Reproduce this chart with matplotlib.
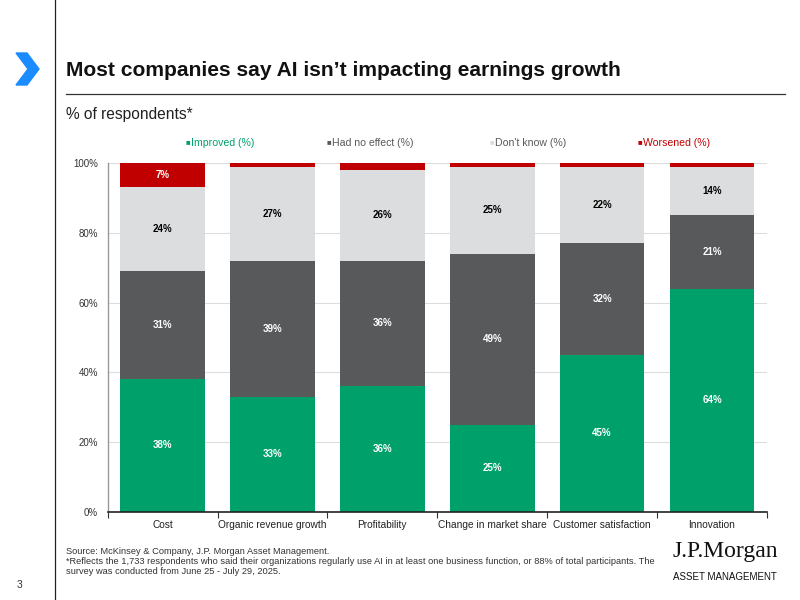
import numpy as np
import matplotlib.pyplot as plt
from matplotlib.patches import Polygon
from matplotlib.lines import Line2D

plt.rcParams['font.family'] = ['Liberation Sans', 'DejaVu Sans']

# data (% of respondents)
categories = ['Cost', 'Organic revenue growth', 'Profitability',
              'Change in market share', 'Customer satisfaction', 'Innovation']
improved = [38, 33, 36, 25, 45, 64]
no_effect = [31, 39, 36, 49, 32, 21]
dont_know = [24, 27, 26, 25, 22, 14]
worsened = [7, 1, 2, 1, 1, 1]
series_names = ['Improved (%)', 'Had no effect (%)', "Don't know (%)", 'Worsened (%)']
y_ticks = [0, 20, 40, 60, 80, 100]

colors = ['#00A06B', '#58595B', '#DCDDDE', '#C00000']
label_colors = ['white', 'white', 'black', 'white']
legend_text_colors = ['#00A06B', '#58595B', '#58595B', '#C00000']

fig = plt.figure(figsize=(8, 6), dpi=100)
ax = fig.add_axes([0.1346, 0.1472, 0.824, 0.581])

x = np.arange(len(categories))
bottom = np.zeros(len(categories))
for vals, col, lcol in zip([improved, no_effect, dont_know, worsened], colors, label_colors):
    vals = np.array(vals, dtype=float)
    ax.bar(x, vals, bottom=bottom, width=0.77, color=col, zorder=2)
    for xi, v, b in zip(x, vals, bottom):
        if v >= 5:
            ax.text(xi, b + v / 2, f'{int(v)}%', ha='center', va='center',
                    fontsize=7, fontweight='bold', color=lcol, zorder=3)
    bottom += vals

ax.set_xlim(-0.5, len(categories) - 0.5)
ax.set_ylim(0, 100)
ax.set_yticks(y_ticks)
ax.set_yticklabels([f'{t}%' for t in y_ticks], fontsize=7, color='#333333')
ax.set_xticks(x)
ax.set_xticklabels(categories, fontsize=7.3, color='#222222')
ax.set_xticks(np.arange(-0.5, len(categories)), minor=True)
ax.tick_params(axis='x', which='major', length=0, pad=6)
ax.tick_params(axis='x', which='minor', length=4, width=0.8, color='#333333', direction='out')
ax.tick_params(axis='y', length=0, pad=7)
ax.yaxis.grid(True, color='#DDDDDD', linewidth=0.8, zorder=0)
ax.set_axisbelow(True)
for s in ['top', 'right']:
    ax.spines[s].set_visible(False)
ax.spines['left'].set_color('#999999')
ax.spines['left'].set_linewidth(1.0)
ax.spines['bottom'].set_color('#222222')
ax.spines['bottom'].set_linewidth(1.2)
ax.spines['bottom'].set_zorder(4)

# legend as coloured squares and text
legend_x = [186, 327, 490, 638]
for lx, name, col, tcol in zip(legend_x, series_names, colors, legend_text_colors):
    fig.text(lx / 800, 1 - 143 / 600, '\u25A0', fontsize=5.5, color=col, va='center', ha='left')
    fig.text((lx + 5) / 800, 1 - 143 / 600, name, fontsize=7.6, color=tcol, va='center', ha='left')

# page furniture
fig.add_artist(Line2D([55 / 800, 55 / 800], [0, 1], color='#222222', linewidth=0.9))
chev = np.array([[16, 53], [27, 53], [39, 69], [27, 85], [16, 85], [28, 69]])
fig.add_artist(Polygon(np.column_stack([chev[:, 0] / 800, 1 - chev[:, 1] / 600]),
                       closed=True, color='#1A8CFF', transform=fig.transFigure))
fig.text(66 / 800, 1 - 70 / 600, 'Most companies say AI isn\u2019t impacting earnings growth',
         fontsize=15.1, fontweight='bold', va='center', ha='left', color='#111111')
fig.add_artist(Line2D([66 / 800, 785 / 800], [1 - 94 / 600] * 2, color='#333333', linewidth=0.9))
fig.text(66 / 800, 1 - 115 / 600, '% of respondents*', fontsize=11.2, va='center', ha='left',
         color='#222222')

footer = ('Source: McKinsey & Company, J.P. Morgan Asset Management.\n'
          '*Reflects the 1,733 respondents who said their organizations regularly use AI in at least '
          'one business function, or 88% of total participants. The\n'
          'survey was conducted from June 25 - July 29, 2025.')
fig.text(66 / 800, 1 - 547 / 600, footer, fontsize=6.7, va='top', ha='left', color='#333333',
         linespacing=1.15)
fig.text(17 / 800, 1 - 585 / 600, '3', fontsize=7.5, va='center', ha='left', color='#333333')
fig.text(725 / 800, 1 - 551 / 600, 'J.P.Morgan', fontsize=17, family=['Liberation Serif', 'DejaVu Serif'],
         va='center', ha='center', color='#111111')
fig.text(725 / 800, 1 - 577 / 600, 'ASSET MANAGEMENT', fontsize=7, va='center', ha='center',
         color='#111111')

fig.savefig('out.png', dpi=100)
